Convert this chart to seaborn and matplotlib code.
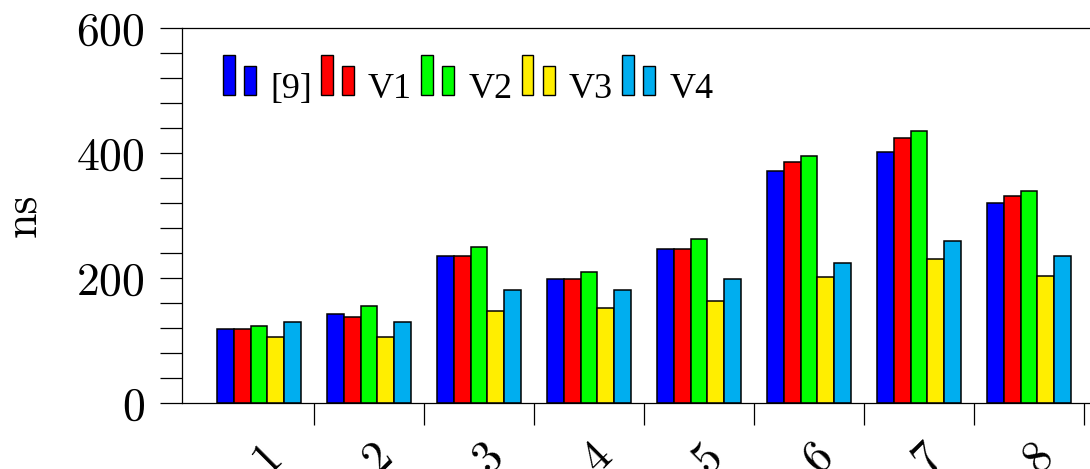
import matplotlib
matplotlib.use("Agg")
import matplotlib.pyplot as plt
import seaborn as sns
import pandas as pd
from matplotlib.patches import Rectangle
from matplotlib.legend_handler import HandlerBase
from matplotlib.ticker import MultipleLocator, FixedLocator
from matplotlib.transforms import ScaledTranslation

groups = ['1', '2', '3', '4', '5', '6', '7', '8']
series = ['[9]', 'V1', 'V2', 'V3', 'V4']
ref9 = [118, 143, 236, 198, 247, 372, 401, 320]
v1 = [118, 138, 236, 198, 247, 386, 424, 331]
v2 = [123, 156, 250, 210, 262, 395, 435, 340]
v3 = [106, 106, 147, 152, 164, 201, 230, 204]
v4 = [130, 130, 181, 181, 198, 224, 259, 236]
colors = ['#0000ff', '#ff0000', '#00ff00', '#ffee00', '#00aeef']

rows = []
for name, vals in zip(series, [ref9, v1, v2, v3, v4]):
    for g, v in zip(groups, vals):
        rows.append({'group': g, 'series': name, 'value': v})
df = pd.DataFrame(rows)

sns.set_style('ticks')
plt.rcParams['font.family'] = ['cmr10']
plt.rcParams['axes.formatter.use_mathtext'] = True
plt.rcParams['axes.linewidth'] = 0.9
plt.rcParams['text.color'] = 'black'
plt.rcParams['axes.labelcolor'] = 'black'
plt.rcParams['xtick.color'] = 'black'
plt.rcParams['ytick.color'] = 'black'


class TwoBars(HandlerBase):
    # gnuplot style key: a tall and a short bar (sizes in points)
    def create_artists(self, legend, orig_handle, xdescent, ydescent,
                       width, height, fontsize, trans):
        fc = orig_handle.get_facecolor()
        w = 8.6
        tall = Rectangle((-xdescent, -ydescent + 2), w, 28.8,
                         facecolor=fc, edgecolor='black', lw=1.0, transform=trans)
        short = Rectangle((-xdescent + width - w, -ydescent + 2), w, 20.9,
                          facecolor=fc, edgecolor='black', lw=1.0, transform=trans)
        return [tall, short]


fig = plt.figure(figsize=(10.9, 4.69), dpi=100)
ax = fig.add_axes([182 / 1090, 66 / 469, 924 / 1090, 375 / 469])

sns.barplot(data=df, x='group', y='value', hue='series', order=groups,
            hue_order=series, palette=colors, saturation=1, width=0.76,
            edgecolor='black', linewidth=1.1, errorbar=None, legend=False, ax=ax)

ax.set_xlim(-0.7, 7.7)
ax.set_ylim(0, 600)
ax.set_yticks([0, 200, 400, 600])
ax.yaxis.set_minor_locator(MultipleLocator(40))
ax.tick_params(axis='y', which='both', direction='out', length=16, width=0.9,
               labelsize=33, pad=11)
ax.xaxis.set_minor_locator(FixedLocator([i + 0.5 for i in range(8)]))
ax.tick_params(axis='x', which='minor', direction='out', length=16, width=0.9)
ax.tick_params(axis='x', which='major', length=0, labelsize=33, pad=23)
for lab in ax.get_xticklabels():
    lab.set_rotation(45)
    lab.set_transform(lab.get_transform() + ScaledTranslation(0.09, 0, fig.dpi_scale_trans))

ax.set_xlabel('')
ax.set_ylabel('ns', fontsize=33)
ax.yaxis.set_label_coords(-0.149, 0.5)

for side in ['left', 'top', 'bottom', 'right']:
    ax.spines[side].set_visible(True)
    ax.spines[side].set_color('black')

handles = [Rectangle((0, 0), 1, 1, facecolor=c) for c in colors]
ax.legend(handles, series, handler_map={Rectangle: TwoBars()}, ncol=5,
          loc='upper left', bbox_to_anchor=(0.044, 0.882), frameon=False,
          prop={'family': 'Liberation Serif', 'size': 26}, handlelength=0.92,
          handletextpad=0.39, columnspacing=0.25, borderpad=0, borderaxespad=0)

fig.savefig('out.png', dpi=100)
